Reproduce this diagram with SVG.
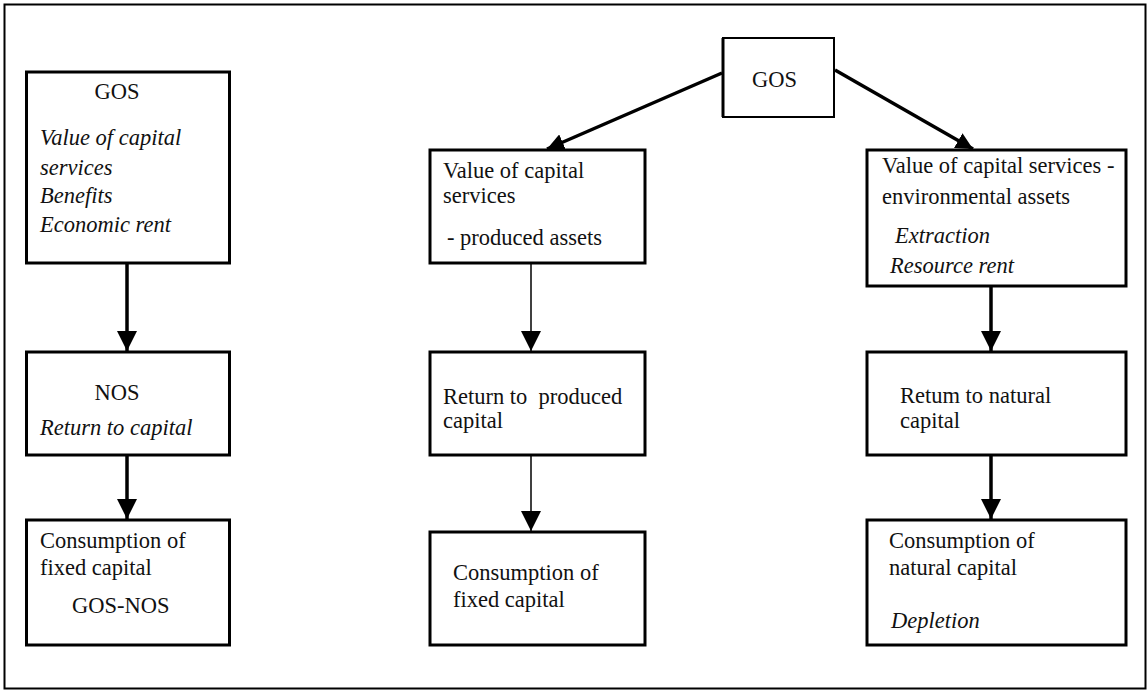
<svg xmlns="http://www.w3.org/2000/svg" width="1148" height="691" viewBox="0 0 1148 691">
<style>
  .box { fill: #fff; stroke: #000; stroke-width: 3; }
  .t { font-family: "Liberation Serif", "Times New Roman", serif; font-size: 22.5px; fill: #111; white-space: pre; }
  .i { font-style: italic; }
  .c { text-anchor: middle; }
  .thick { stroke: #000; stroke-width: 3.5; fill: none; }
  .thin { stroke: #000; stroke-width: 1.5; fill: none; }
</style>
<defs>
  <marker id="ah" markerUnits="userSpaceOnUse" markerWidth="20" markerHeight="20" refX="18" refY="9" orient="auto" viewBox="0 0 18 18">
    <path d="M0,0 L18,9 L0,18 z" fill="#000"/>
  </marker>
  <marker id="ahs" markerUnits="userSpaceOnUse" markerWidth="17" markerHeight="17" refX="16" refY="8" orient="auto" viewBox="0 0 16 16">
    <path d="M0,0 L16,8 L0,16 z" fill="#000"/>
  </marker>
</defs>
<rect x="4.5" y="4.5" width="1141" height="684" fill="#fff" stroke="#000" stroke-width="2"/>

<g id="connectors">
  <line class="thick" x1="127" y1="264" x2="127" y2="351" marker-end="url(#ah)"/>
  <line class="thick" x1="127" y1="456" x2="127" y2="519" marker-end="url(#ah)"/>
  <line class="thin" x1="531" y1="264" x2="531" y2="351" marker-end="url(#ah)"/>
  <line class="thin" x1="531" y1="456" x2="531" y2="531" marker-end="url(#ah)"/>
  <line class="thick" x1="991" y1="287" x2="991" y2="351" marker-end="url(#ah)"/>
  <line class="thick" x1="991" y1="456" x2="991" y2="519" marker-end="url(#ah)"/>
  <line class="thick" x1="722" y1="73" x2="547" y2="149" marker-end="url(#ahs)"/>
  <line class="thick" x1="835" y1="70" x2="973" y2="149" marker-end="url(#ahs)"/>
</g>

<g id="gos-left">
  <rect class="box" x="26.5" y="72" width="203" height="191"/>
  <text class="t c" x="117" y="99">GOS</text>
  <text class="t i" x="40" y="145">Value of capital</text>
  <text class="t i" x="40" y="175">services</text>
  <text class="t i" x="40" y="203">Benefits</text>
  <text class="t i" x="40" y="232">Economic rent</text>
</g>

<g id="nos-left">
  <rect class="box" x="26.5" y="352" width="203" height="103"/>
  <text class="t c" x="117" y="400">NOS</text>
  <text class="t i" x="40" y="435">Return to capital</text>
</g>

<g id="cfc-left">
  <rect class="box" x="26.5" y="520" width="203" height="125"/>
  <text class="t" x="40" y="548">Consumption of</text>
  <text class="t" x="40" y="575">fixed capital</text>
  <text class="t" x="72" y="613">GOS-NOS</text>
</g>

<g id="gos-top">
  <rect x="723" y="38" width="111" height="79" fill="#fff" stroke="#000" stroke-width="2"/>
  <line x1="723" y1="38" x2="723" y2="117" stroke="#000" stroke-width="3"/>
  <text class="t" x="752" y="87">GOS</text>
</g>

<g id="vcs-produced">
  <rect class="box" x="430" y="150" width="215" height="113"/>
  <text class="t" x="443" y="178">Value of capital</text>
  <text class="t" x="443" y="203">services</text>
  <text class="t" x="447" y="245">- produced assets</text>
</g>

<g id="return-produced">
  <rect class="box" x="430" y="352" width="215" height="103"/>
  <text class="t" x="443" y="404">Return to  produced</text>
  <text class="t" x="443" y="428">capital</text>
</g>

<g id="cfc-mid">
  <rect class="box" x="430" y="532" width="215" height="113"/>
  <text class="t" x="453" y="580">Consumption of</text>
  <text class="t" x="453" y="607">fixed capital</text>
</g>

<g id="vcs-environmental">
  <rect class="box" x="867" y="150" width="259" height="136"/>
  <text class="t" x="882" y="173">Value of capital services -</text>
  <text class="t" x="882" y="204">environmental assets</text>
  <text class="t i" x="895" y="243">Extraction</text>
  <text class="t i" x="890" y="273">Resource rent</text>
</g>

<g id="return-natural">
  <rect class="box" x="867" y="352" width="259" height="103"/>
  <text class="t" x="900" y="403">Retum to natural</text>
  <text class="t" x="900" y="428">capital</text>
</g>

<g id="ccn-right">
  <rect class="box" x="867" y="520" width="259" height="125"/>
  <text class="t" x="889" y="548">Consumption of</text>
  <text class="t" x="889" y="575">natural capital</text>
  <text class="t i" x="891" y="628">Depletion</text>
</g>
</svg>
